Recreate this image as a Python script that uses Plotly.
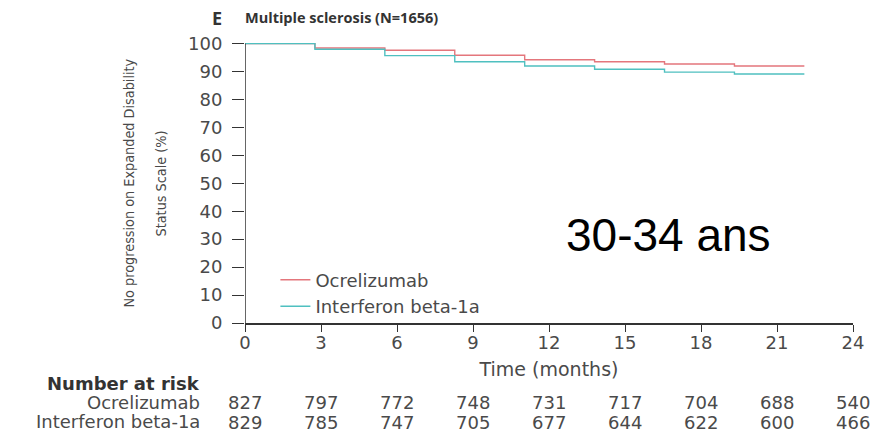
import plotly.graph_objects as go

# ---- data ----
time_months = [0, 2.76, 5.52, 8.28, 11.04, 13.8, 16.56, 19.32, 22.08]
ocrelizumab = [100, 98.4, 97.6, 95.8, 94.2, 93.5, 92.7, 92.0, 92.0]
interferon = [100, 98.0, 95.7, 93.5, 92.0, 90.8, 89.8, 89.1, 89.1]

risk_times = [0, 3, 6, 9, 12, 15, 18, 21, 24]
risk_ocrelizumab = [827, 797, 772, 748, 731, 717, 704, 688, 540]
risk_interferon = [829, 785, 747, 705, 677, 644, 622, 600, 466]

x_ticks = [0, 3, 6, 9, 12, 15, 18, 21, 24]
y_ticks = [0, 10, 20, 30, 40, 50, 60, 70, 80, 90, 100]

series_names = ["Ocrelizumab", "Interferon beta-1a"]
title_text = "Multiple sclerosis (N=1656)"
panel_letter = "E"
overlay_text = "30-34 ans"

RED = "#e4767c"
TEAL = "#4fc0c0"
TXT = "#4a4a4a"
FONT = "DejaVu Sans"
NARROW = "Liberation Sans Narrow, DejaVu Sans Condensed, Arial Narrow, sans-serif"

fig = go.Figure()
fig.add_trace(go.Scatter(x=time_months, y=ocrelizumab, mode="lines", line_shape="hv",
                         line=dict(color=RED, width=1.4), name=series_names[0]))
fig.add_trace(go.Scatter(x=time_months, y=interferon, mode="lines", line_shape="hv",
                         line=dict(color=TEAL, width=1.4), name=series_names[1]))

annotations = []
# y-axis title (two lines)
annotations.append(dict(text="No progression on Expanded Disability", xref="paper", yref="paper",
                        x=0, y=0.5, xshift=-117, yshift=-3, textangle=-90, showarrow=False,
                        xanchor="center", yanchor="middle",
                        font=dict(family=NARROW, size=14.3, color=TXT)))
annotations.append(dict(text="Status Scale (%)", xref="paper", yref="paper",
                        x=0, y=0.5, xshift=-85, yshift=-3, textangle=-90, showarrow=False,
                        xanchor="center", yanchor="middle",
                        font=dict(family=NARROW, size=14.3, color=TXT)))
# panel letter
annotations.append(dict(text="<b>" + panel_letter + "</b>", xref="paper", yref="paper", x=0, y=1,
                        xshift=-28, yshift=20, showarrow=False, xanchor="center", yanchor="middle",
                        font=dict(family="Open Sans", size=18, color="#333")))
# number at risk
annotations.append(dict(text="<b>Number at risk</b>", xref="paper", yref="paper", x=0, y=0,
                        xshift=-43, yshift=-60, xanchor="right", yanchor="middle", showarrow=False,
                        font=dict(family=FONT, size=18, color="#333")))
for name, yshift in zip(series_names, [-79, -98]):
    annotations.append(dict(text=name, xref="paper", yref="paper", x=0, y=0,
                            xshift=-43, yshift=yshift, xanchor="right", yanchor="middle", showarrow=False,
                            font=dict(family=FONT, size=18, color=TXT)))
for t, a, b in zip(risk_times, risk_ocrelizumab, risk_interferon):
    annotations.append(dict(text=str(a), xref="x", yref="paper", x=t, y=0, yshift=-79,
                            xanchor="center", yanchor="middle", showarrow=False,
                            font=dict(family=FONT, size=18, color=TXT)))
    annotations.append(dict(text=str(b), xref="x", yref="paper", x=t, y=0, yshift=-99,
                            xanchor="center", yanchor="middle", showarrow=False,
                            font=dict(family=FONT, size=18, color=TXT)))
# overlay label
annotations.append(dict(text=overlay_text, xref="x", yref="y", x=12.6, y=31.5,
                        xanchor="left", yanchor="middle", showarrow=False,
                        font=dict(family="Liberation Sans, Arial, sans-serif", size=46, color="#000")))

fig.update_layout(
    width=876, height=433,
    margin=dict(l=245, r=21, t=38, b=110),
    paper_bgcolor="white", plot_bgcolor="white",
    title=dict(text="<b>" + title_text + "</b>", x=245 / 876, xanchor="left", xref="container",
               y=1 - 18 / 433, yanchor="middle", yref="container",
               font=dict(family="Open Sans", size=14.5, color="#333")),
    showlegend=True,
    legend=dict(x=0.05, y=0.105, xanchor="left", yanchor="middle", bgcolor="rgba(0,0,0,0)",
                font=dict(family=FONT, size=18, color=TXT), tracegroupgap=0),
    annotations=annotations,
    shapes=[dict(type="line", xref="x", yref="y", x0=0, x1=0, y0=0, y1=100,
                 line=dict(color="#333", width=1.5))],
    xaxis=dict(range=[0, 24], tickvals=x_ticks, ticks="outside", ticklen=7, tickcolor="#333",
               showline=True, linecolor="#333", linewidth=1.5, showgrid=False, zeroline=False,
               ticklabelstandoff=-4,
               tickfont=dict(family=FONT, size=18, color=TXT),
               title=dict(text="Time (months)", standoff=10, font=dict(family=FONT, size=19, color=TXT))),
    yaxis=dict(range=[0, 102], tickvals=y_ticks, ticks="outside", ticklen=12, tickcolor="#333",
               showline=False, showgrid=False, zeroline=False, ticklabelstandoff=6,
               tickfont=dict(family=FONT, size=18, color=TXT)),
)

fig.write_html("out.html")
